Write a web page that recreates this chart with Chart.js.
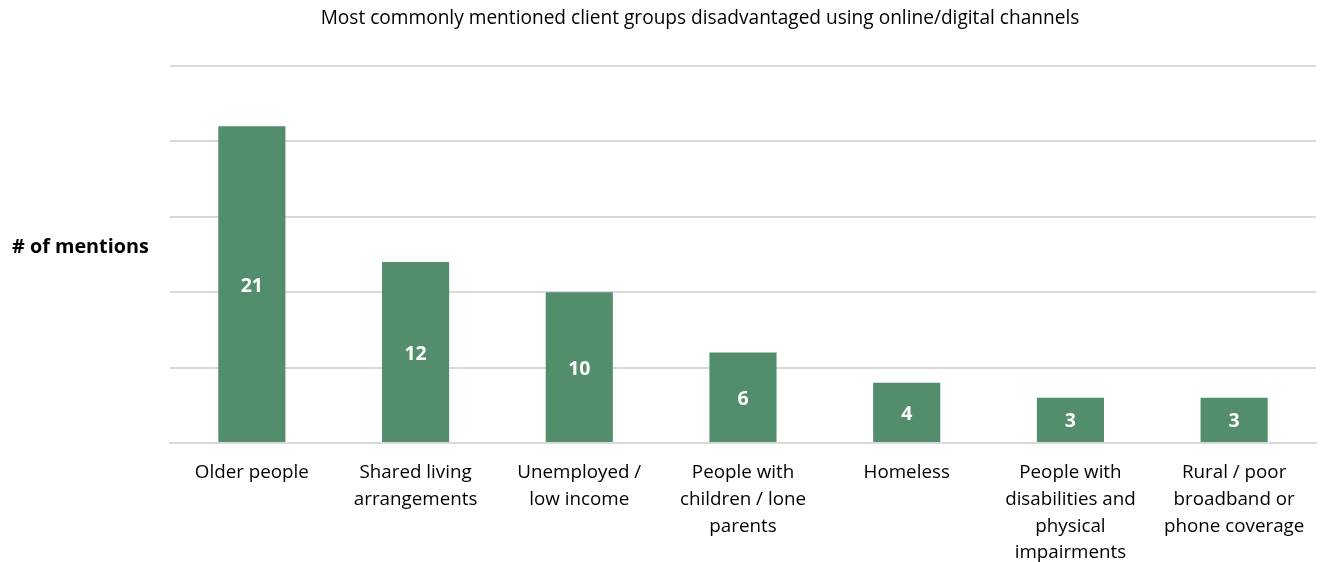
<!DOCTYPE html>
<html>
<head>
<meta charset="utf-8">
<title>Client groups disadvantaged</title>
<script src="https://cdn.jsdelivr.net/npm/chart.js@4"></script>
<style>
  html, body { margin: 0; padding: 0; background: #fff; }
  #wrap { width: 1320px; height: 562px; }
</style>
</head>
<body>
<div id="wrap"><canvas id="chart" width="1320" height="562"></canvas></div>
<script>
const categories = [
  'Older people',
  ['Shared living', 'arrangements'],
  ['Unemployed /', 'low income'],
  ['People with', 'children / lone', 'parents'],
  'Homeless',
  ['People with', 'disabilities and', 'physical', 'impairments'],
  ['Rural / poor', 'broadband or', 'phone coverage']
];
const mentions = [21, 12, 10, 6, 4, 3, 3];

const chartTitle = 'Most commonly mentioned client groups disadvantaged using online/digital channels';
const axisLabel = '# of mentions';

const FONT = "'Open Sans', 'Noto Sans', sans-serif";

// title, side label and values inside bars
const annotate = {
  id: 'annotate',
  afterDatasetsDraw(chart) {
    const ctx = chart.ctx;
    ctx.save();
    ctx.fillStyle = '#000';
    ctx.textAlign = 'center';
    ctx.textBaseline = 'middle';
    ctx.font = '19.1px ' + FONT;
    ctx.fillText(chartTitle, 700, 19);

    ctx.textAlign = 'left';
    ctx.font = 'bold 19.8px ' + FONT;
    ctx.fillText(axisLabel, 12, 247);

    ctx.fillStyle = '#fff';
    ctx.textAlign = 'center';
    ctx.font = 'bold 19.5px ' + FONT;
    chart.getDatasetMeta(0).data.forEach((bar, i) => {
      const mid = (bar.y + bar.base) / 2;
      ctx.fillText(String(mentions[i]), bar.x, mid + 2);
    });
    ctx.restore();
  }
};

new Chart(document.getElementById('chart'), {
  type: 'bar',
  data: {
    labels: categories,
    datasets: [{
      data: mentions,
      backgroundColor: '#528e6b',
      borderWidth: 0,
      barPercentage: 0.41,
      categoryPercentage: 1
    }]
  },
  options: {
    responsive: false,
    animation: false,
    layout: { padding: { left: 170, right: 4, top: 66, bottom: 0 } },
    plugins: {
      legend: { display: false },
      title: { display: false },
      tooltip: { enabled: false }
    },
    scales: {
      x: {
        grid: { display: false },
        border: { color: '#d9d9d9', width: 2 },
        ticks: {
          color: '#000',
          padding: 8,
          maxRotation: 0,
          autoSkip: false,
          font: { family: FONT, size: 18.8, lineHeight: 1.43 }
        },
        afterFit(scale) { scale.height = 119; }
      },
      y: {
        min: 0,
        max: 25,
        ticks: { display: false, stepSize: 5 },
        border: { display: false },
        grid: { color: '#d9d9d9', lineWidth: 2, drawTicks: false },
        afterFit(scale) { scale.width = 0; }
      }
    }
  },
  plugins: [annotate]
});
</script>
</body>
</html>
